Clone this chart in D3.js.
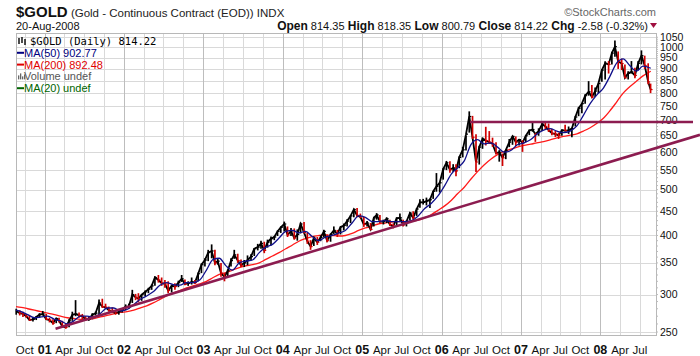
<!DOCTYPE html>
<html><head><meta charset="utf-8">
<script src="https://cdn.jsdelivr.net/npm/d3@7"></script>
<style>
body{margin:0;background:#fff;}
svg{display:block;font-family:"Liberation Sans",Arial,sans-serif;}
</style></head>
<body><svg id="c" width="700" height="356"></svg>
<script>
// ---------- DATA ----------
const months = [
 "2000-08","2000-09","2000-10","2000-11","2000-12",
 "2001-01","2001-02","2001-03","2001-04","2001-05","2001-06","2001-07","2001-08","2001-09","2001-10","2001-11","2001-12",
 "2002-01","2002-02","2002-03","2002-04","2002-05","2002-06","2002-07","2002-08","2002-09","2002-10","2002-11","2002-12",
 "2003-01","2003-02","2003-03","2003-04","2003-05","2003-06","2003-07","2003-08","2003-09","2003-10","2003-11","2003-12",
 "2004-01","2004-02","2004-03","2004-04","2004-05","2004-06","2004-07","2004-08","2004-09","2004-10","2004-11","2004-12",
 "2005-01","2005-02","2005-03","2005-04","2005-05","2005-06","2005-07","2005-08","2005-09","2005-10","2005-11","2005-12",
 "2006-01","2006-02","2006-03","2006-04","2006-05","2006-06","2006-07","2006-08","2006-09","2006-10","2006-11","2006-12",
 "2007-01","2007-02","2007-03","2007-04","2007-05","2007-06","2007-07","2007-08","2007-09","2007-10","2007-11","2007-12",
 "2008-01","2008-02","2008-03","2008-04","2008-05","2008-06","2008-07","2008-08"];

// half-month price bars: [low, high, close], two per month (first half, second half); Aug 2000 starts mid-month
const priceBars = [
 [272,280,277],
 [271,278,274],[269,276,273],[268,273,270],[264,271,265],[263,268,266],[265,270,269],[268,274,272],[271,277,273],
 [265,273,266],[262,268,265],[259,266,261],[261,268,267],[262,268,264],[255,264,257],[254,260,256],[256,266,264],
 [264,276,272],[270,292,273],[268,275,271],[266,273,270],[264,270,266],[264,269,266],[266,274,272],[271,276,274],
 [271,293,288],[281,294,283],[280,287,282],[276,283,278],[274,282,276],[272,278,274],[272,278,276],[275,281,279],
 [278,286,283],[280,287,283],[288,307,300],[292,301,296],[289,302,294],[291,300,300],[298,306,304],[302,310,308],
 [307,315,313],[313,328,326],[318,330,322],[313,326,317],[310,322,316],[302,320,306],[303,315,313],[307,317,312],
 [311,321,318],[319,330,324],[314,323,316],[313,320,317],[315,326,319],[316,322,318],[320,334,332],[333,349,347],
 [344,358,355],[353,373,368],[358,383,371],[346,373,350],[347,358,353],[327,350,333],[320,333,327],[328,339,337],
 [344,358,354],[357,373,364],[350,366,354],[343,356,346],[343,355,350],[346,363,355],[354,365,361],[362,376,375],
 [372,384,378],[375,390,385],[367,388,372],[377,392,387],[381,398,394],[391,399,397],[399,410,408],[405,418,416],
 [408,428,423],[397,418,401],[399,415,409],[392,414,395],[390,412,402],[404,426,423],[404,427,406],[384,405,389],
 [373,391,379],[380,398,395],[382,397,387],[389,400,396],[396,411,408],[387,402,390],[388,404,402],[403,418,410],
 [397,411,403],[402,418,417],[410,424,420],[418,433,429],[425,442,440],[437,456,454],[437,457,441],[435,445,438],
 [417,438,422],[418,429,425],[410,425,412],[418,438,436],[432,446,442],[424,442,428],[422,432,428],[425,437,434],
 [419,432,422],[414,424,418],[418,437,435],[430,445,436],[418,432,421],[418,430,428],[431,448,446],[432,450,436],
 [440,457,455],[458,477,470],[465,478,470],[463,481,473],[457,479,476],[478,497,496],[495,542,508],[493,518,517],
 [525,555,553],[550,575,570],[543,574,551],[545,566,556],[534,566,548],[555,588,585],[585,616,607],[605,650,655],
 [660,732,714],[640,716,645],[545,655,572],[565,619,615],[610,645,640],[620,679,635],[625,665,630],[616,644,625],
 [593,630,597],[573,606,600],[561,596,584],[580,607,606],[615,640,630],[622,650,648],[618,648,630],[620,640,638],
 [601,636,628],[630,652,650],[652,670,667],[663,692,670],[631,658,655],[650,674,665],[665,695,688],[670,695,680],
 [662,690,668],[652,672,658],[646,665,655],[640,660,651],[650,670,668],[665,686,666],[656,680,668],[645,676,673],
 [680,716,712],[715,748,743],[725,762,760],[760,796,790],[790,848,805],[780,832,785],[785,822,808],[800,840,838],
 [845,900,895],[855,934,925],[880,935,920],[920,978,972],[955,1033,1003],[900,980,933],[895,946,924],[860,920,862],
 [855,890,881],[880,935,887],[860,905,872],[895,935,925],[920,985,960],[900,960,915],[835,925,845],[800,838,814]
];

// moving averages, one value per month (mid-month)
const ma50 = [278,276,272,268,269,
 270,266,264,260,264,270,270,269,274,281,281,277,
 279,286,293,298,304,314,318,315,314,318,318,322,
 338,356,358,345,338,350,353,355,368,378,383,395,
 408,410,405,408,398,390,397,400,405,410,425,440,
 437,428,428,430,428,428,428,430,440,456,468,485,
 510,540,556,575,622,638,625,628,615,600,605,622,
 628,638,655,668,673,665,660,665,682,718,760,792,
 820,870,925,945,915,890,912,903];
const ma200 = [283,282,280,278,276,
 274,272,270,268,267,266,266,267,269,271,273,275,
 276,278,281,284,288,293,298,302,306,310,313,316,
 320,326,331,334,338,342,345,347,350,356,362,368,
 375,382,389,394,398,400,401,400,399,400,404,410,
 415,419,423,425,427,428,428,429,431,436,443,452,
 462,475,490,506,526,546,564,580,593,602,609,615,
 620,624,628,632,637,643,648,652,656,665,676,690,
 708,735,765,800,825,848,870,890];

const yTicks = [250,300,350,400,450,500,550,600,650,700,750,800,850,900,950,1000,1050];
const xTicks = [["2000-10","Oct"],["2001-01","01"],["2001-04","Apr"],["2001-07","Jul"],["2001-10","Oct"],
 ["2002-01","02"],["2002-04","Apr"],["2002-07","Jul"],["2002-10","Oct"],
 ["2003-01","03"],["2003-04","Apr"],["2003-07","Jul"],["2003-10","Oct"],
 ["2004-01","04"],["2004-04","Apr"],["2004-07","Jul"],["2004-10","Oct"],
 ["2005-01","05"],["2005-04","Apr"],["2005-07","Jul"],["2005-10","Oct"],
 ["2006-01","06"],["2006-04","Apr"],["2006-07","Jul"],["2006-10","Oct"],
 ["2007-01","07"],["2007-04","Apr"],["2007-07","Jul"],["2007-10","Oct"],
 ["2008-01","08"],["2008-04","Apr"],["2008-07","Jul"]];

const resistance = {start:"2006-05-12", value:695};
const trendLine = [["2001-02-20",254],["2008-08-17",607]];

const legendItems = [
 {text:"$GOLD (Daily) 814.22", color:"#000", kind:"price"},
 {text:"MA(50) 902.77", color:"#000080", kind:"line"},
 {text:"MA(200) 892.48", color:"#e00000", kind:"line"},
 {text:"Volume undef", color:"#555", kind:"vol"},
 {text:"MA(20) undef", color:"#006400", kind:"line"}
];
const quote = [["Open","814.35"],["High","818.35"],["Low","800.79"],["Close","814.22"],["Chg","-2.58 (-0.32%)"]];

// ---------- CHART ----------
const svg = d3.select("#c");
const parse = d3.timeParse("%Y-%m-%d");
const parseM = d3.timeParse("%Y-%m");
const L=16, R=656, T=33, B=335;
const x = d3.scaleTime().domain([new Date(2000,7,22), new Date(2008,8,13)]).range([L,R]);
const y = d3.scaleLog().domain([246.4,1072]).range([B,T]);

// bar dates
const barDates = [];
months.forEach((m,i)=>{
  const d0 = parseM(m);
  if(i>0) barDates.push(d3.timeDay.offset(d0,7));
  barDates.push(d3.timeDay.offset(d0, i===months.length-1 ? 18 : 22));
});
const bars = priceBars.map((b,i)=>({d:barDates[i], lo:b[0], hi:b[1], c:b[2], up: i===0 || b[2]>=priceBars[i-1][2]}));
const maDates = months.map(m=>d3.timeDay.offset(parseM(m),14));
maDates[0] = new Date(2000,7,22);
maDates[maDates.length-1] = new Date(2008,7,20);

// grid
const g = svg.append("g");
g.selectAll("line.h").data(yTicks).join("line")
 .attr("x1",L).attr("x2",R).attr("y1",d=>Math.round(y(d))+0.5).attr("y2",d=>Math.round(y(d))+0.5)
 .attr("stroke","#d9d9d9").attr("stroke-width",1);
g.selectAll("line.v").data(xTicks).join("line")
 .attr("x1",d=>Math.round(x(parseM(d[0])))+0.5).attr("x2",d=>Math.round(x(parseM(d[0])))+0.5)
 .attr("y1",T).attr("y2",B)
 .attr("stroke",d=>/^\d/.test(d[1])?"#bdbdbd":"#d9d9d9").attr("stroke-width",1);
svg.append("rect").attr("x",L+0.5).attr("y",T+0.5).attr("width",R-L).attr("height",B-T)
 .attr("fill","none").attr("stroke","#b8b8b8");

// right axis
const minor = d3.range(250,1051,10);
svg.selectAll("line.mt").data(minor).join("line")
 .attr("x1",R).attr("x2",R+2).attr("y1",d=>y(d)).attr("y2",d=>y(d)).attr("stroke","#bbb");
svg.selectAll("text.yt").data(yTicks).join("text")
 .attr("x",R+4).attr("y",d=>y(d)+3.5).attr("font-size","10.5px").attr("fill","#111").text(d=>d);

// bottom axis
svg.selectAll("text.xt").data(xTicks).join("text")
 .attr("x",d=>x(parseM(d[0]))).attr("y",354).attr("text-anchor","middle")
 .attr("font-size",d=>/^\d/.test(d[1])?"12.5px":"11.5px")
 .attr("font-weight",d=>/^\d/.test(d[1])?"bold":"normal")
 .attr("fill","#111").text(d=>d[1]);

// MA lines
const lineGen = d3.line().x((d,i)=>x(maDates[i])).y(d=>y(d)).curve(d3.curveMonotoneX);
svg.append("path").attr("d",lineGen(ma200)).attr("fill","none").attr("stroke","#ff1a1a").attr("stroke-width",1.3);

// price
svg.append("path").attr("d",d3.line().x(d=>x(d.d)).y(d=>y(d.c))(bars))
 .attr("fill","none").attr("stroke","#000").attr("stroke-width",1.8);
svg.selectAll("line.bar").data(bars).join("line")
 .attr("x1",d=>x(d.d)).attr("x2",d=>x(d.d)).attr("y1",d=>y(d.lo)).attr("y2",d=>y(d.hi))
 .attr("stroke",d=>d.up?"#000":"#d00000").attr("stroke-width",1.7);
svg.selectAll("line.tk").data(bars).join("line")
 .attr("x1",d=>x(d.d)).attr("x2",d=>x(d.d)+2).attr("y1",d=>y(d.c)).attr("y2",d=>y(d.c))
 .attr("stroke",d=>d.up?"#000":"#d00000").attr("stroke-width",1.2);

svg.append("path").attr("d",lineGen(ma50)).attr("fill","none").attr("stroke","#10108a").attr("stroke-width",1.3);

// user drawn lines
const lineColor = "#8c1c50";
const hx = x(parse(resistance.start)), hy = y(resistance.value);
svg.append("line").attr("x1",hx).attr("x2",693).attr("y1",hy).attr("y2",hy)
 .attr("stroke",lineColor).attr("stroke-width",2.6);
const tx1 = x(parse(trendLine[0][0])), ty1 = y(trendLine[0][1]);
const tx2 = x(parse(trendLine[1][0])), ty2 = y(trendLine[1][1]);
const slope = (ty2-ty1)/(tx2-tx1);
svg.append("line").attr("x1",tx1).attr("y1",ty1).attr("x2",700).attr("y2",ty1+slope*(700-tx1))
 .attr("stroke",lineColor).attr("stroke-width",2.6);

// legend
const lg = svg.append("g");
legendItems.forEach((it,i)=>{
  const cy = 41 + i*11.8;
  if(it.kind==="price"){
    lg.append("text").attr("x",30).attr("y",cy+4).attr("font-family","'DejaVu Sans Mono',monospace")
      .attr("font-size","10.5px").attr("fill","#000").text(it.text);
    [[19,cy-3,cy+3],[22,cy-4,cy+2],[25,cy-2,cy+4]].forEach(b=>{
      lg.append("line").attr("x1",b[0]).attr("x2",b[0]).attr("y1",b[1]).attr("y2",b[2]).attr("stroke","#000").attr("stroke-width",1.4);
    });
  } else {
    if(it.kind==="line"){
      lg.append("line").attr("x1",17).attr("x2",24).attr("y1",cy).attr("y2",cy).attr("stroke",it.color).attr("stroke-width",2);
    } else {
      [[18,4],[20,6],[22,3],[24,5]].forEach(b=>{
        lg.append("rect").attr("x",b[0]).attr("y",cy+3-b[1]).attr("width",1.3).attr("height",b[1]).attr("fill","#666");
      });
    }
    lg.append("text").attr("x",24).attr("y",cy+4).attr("font-size","11px").attr("fill",it.color).text(it.text);
  }
});

// header
const h = svg.append("text").attr("x",16).attr("y",17);
h.append("tspan").attr("font-weight","bold").attr("font-size","15px").attr("fill","#111").text("$GOLD");
h.append("tspan").attr("font-size","11.5px").attr("fill","#222").text(" (Gold - Continuous Contract (EOD)) INDX");
svg.append("text").attr("x",16).attr("y",30).attr("font-size","11px").attr("fill","#111").text("20-Aug-2008");
svg.append("text").attr("x",656).attr("y",16).attr("text-anchor","end").attr("font-size","11px").attr("fill","#666").text("\u00A9StockCharts.com");
const q = svg.append("text").attr("x",648).attr("y",30).attr("text-anchor","end").attr("font-size","11.5px").attr("fill","#111");
quote.forEach((p,i)=>{
  q.append("tspan").attr("font-weight","bold").attr("font-size","12px").text((i?"  ":"")+p[0]);
  q.append("tspan").attr("font-size","11px").text(" "+p[1]);
});
svg.append("path").attr("d","M650,23 L657,23 L653.5,28 Z").attr("fill","#a01040");
</script></body></html>
